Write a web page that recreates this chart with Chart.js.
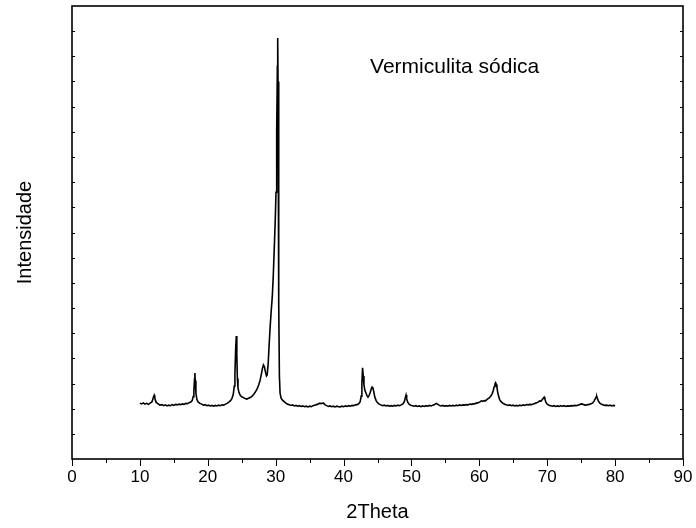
<!DOCTYPE html>
<html>
<head>
<meta charset="utf-8">
<script src="https://cdn.jsdelivr.net/npm/chart.js@4/dist/chart.umd.min.js"></script>
<style>
  html, body { margin: 0; padding: 0; background: #fff; }
</style>
</head>
<body>
<canvas id="xrdChart" width="696" height="528"></canvas>
<script>
// data
const twoTheta = [
  10.00, 10.25, 10.50, 10.75, 11.00, 11.25, 11.50, 11.75, 11.90, 12.00,
  12.10, 12.20, 12.30, 12.45, 12.70, 12.95, 13.25, 13.50, 13.75, 14.00,
  14.25, 14.50, 14.75, 15.00, 15.25, 15.50, 15.75, 16.00, 16.25, 16.50,
  16.75, 17.00, 17.25, 17.50, 17.70, 17.85, 17.95, 18.05, 18.10, 18.15,
  18.25, 18.40, 18.60, 18.85, 19.10, 19.35, 19.60, 19.85, 20.10, 20.35,
  20.60, 20.85, 21.10, 21.35, 21.60, 21.85, 22.10, 22.35, 22.60, 22.85,
  23.10, 23.35, 23.55, 23.75, 23.90, 24.00, 24.10, 24.20, 24.28, 24.36,
  24.45, 24.60, 24.80, 25.00, 25.25, 25.50, 25.75, 26.00, 26.25, 26.50,
  26.75, 27.00, 27.25, 27.50, 27.70, 27.90, 28.05, 28.20, 28.35, 28.50,
  28.65, 28.75, 28.90, 29.05, 29.20, 29.35, 29.50, 29.65, 29.80, 29.95,
  30.05, 30.15, 30.25, 30.30, 30.35, 30.42, 30.48, 30.55, 30.65, 30.80,
  31.00, 31.25, 31.50, 31.75, 32.00, 32.25, 32.50, 32.75, 33.00, 33.25,
  33.50, 33.75, 34.00, 34.25, 34.50, 34.75, 35.00, 35.25, 35.50, 35.75,
  36.00, 36.25, 36.50, 36.75, 37.00, 37.25, 37.50, 37.75, 38.00, 38.25,
  38.50, 38.75, 39.00, 39.25, 39.50, 39.75, 40.00, 40.25, 40.50, 40.75,
  41.00, 41.25, 41.50, 41.75, 42.00, 42.25, 42.45, 42.60, 42.70, 42.80,
  42.90, 43.00, 43.15, 43.30, 43.45, 43.60, 43.75, 43.90, 44.05, 44.20,
  44.30, 44.45, 44.60, 44.80, 45.00, 45.25, 45.50, 45.75, 46.00, 46.25,
  46.50, 46.75, 47.00, 47.25, 47.50, 47.75, 48.00, 48.25, 48.50, 48.75,
  48.95, 49.10, 49.20, 49.30, 49.45, 49.65, 49.90, 50.15, 50.40, 50.65,
  50.90, 51.15, 51.40, 51.65, 51.90, 52.15, 52.40, 52.65, 52.90, 53.15,
  53.40, 53.65, 53.85, 54.10, 54.35, 54.60, 54.85, 55.10, 55.35, 55.60,
  55.85, 56.10, 56.35, 56.60, 56.85, 57.10, 57.35, 57.60, 57.85, 58.10,
  58.35, 58.60, 58.85, 59.10, 59.35, 59.60, 59.85, 60.10, 60.30, 60.50,
  60.70, 60.90, 61.10, 61.30, 61.50, 61.70, 61.90, 62.05, 62.20, 62.30,
  62.40, 62.50, 62.60, 62.70, 62.85, 63.00, 63.20, 63.45, 63.70, 63.95,
  64.20, 64.45, 64.70, 64.95, 65.20, 65.45, 65.70, 65.95, 66.20, 66.45,
  66.70, 66.95, 67.20, 67.45, 67.70, 67.95, 68.20, 68.45, 68.70, 68.90,
  69.10, 69.25, 69.40, 69.55, 69.65, 69.80, 70.00, 70.25, 70.50, 70.75,
  71.00, 71.25, 71.50, 71.75, 72.00, 72.25, 72.50, 72.75, 73.00, 73.25,
  73.50, 73.75, 74.00, 74.25, 74.50, 74.75, 75.00, 75.20, 75.45, 75.70,
  75.95, 76.20, 76.45, 76.70, 76.90, 77.05, 77.20, 77.30, 77.40, 77.55,
  77.75, 78.00, 78.25, 78.50, 78.75, 79.00, 79.25, 79.50, 79.75, 80.00
];

const counts = [
  222, 219, 223, 218, 221, 217, 222, 226, 236, 246,
  253, 243, 232, 224, 219, 214, 216, 212, 215, 211,
  214, 212, 216, 213, 217, 215, 218, 216, 219, 217,
  221, 220, 224, 226, 232, 248, 270, 318, 342, 312,
  262, 236, 226, 221, 218, 214, 216, 212, 214, 211,
  213, 210, 213, 211, 214, 212, 215, 214, 218, 221,
  226, 232, 240, 256, 290, 340, 430, 489, 410, 320,
  282, 264, 252, 247, 244, 240, 238, 241, 244, 249,
  256, 266, 278, 294, 312, 338, 360, 374, 366, 345,
  330, 334, 380, 460, 530, 590, 644, 730, 840, 960,
  1060, 1300, 1560, 1673, 1500, 1100, 620, 330, 262, 242,
  234, 228, 222, 218, 216, 213, 215, 211, 213, 210,
  212, 209, 211, 208, 210, 207, 210, 208, 212, 214,
  216, 218, 222, 220, 223, 216, 212, 209, 211, 208,
  210, 207, 210, 208, 207, 210, 208, 211, 209, 212,
  210, 213, 212, 215, 216, 220, 228, 250, 300, 362,
  330, 294, 272, 262, 252, 246, 252, 262, 276, 286,
  284, 268, 246, 232, 224, 218, 215, 212, 214, 211,
  213, 210, 212, 210, 213, 211, 214, 212, 215, 219,
  228, 244, 254, 240, 226, 218, 214, 212, 210, 212,
  209, 211, 208, 211, 209, 212, 210, 213, 211, 214,
  216, 221, 218, 213, 211, 213, 210, 212, 210, 213,
  211, 213, 211, 214, 212, 215, 213, 215, 214, 216,
  215, 218, 217, 219, 220, 222, 224, 227, 231, 229,
  232, 231, 236, 240, 244, 250, 260, 272, 288, 298,
  303, 296, 284, 266, 248, 236, 228, 222, 218, 216,
  213, 215, 212, 214, 211, 213, 211, 214, 212, 215,
  213, 216, 215, 217, 216, 219, 221, 223, 227, 231,
  230, 235, 240, 246, 240, 226, 218, 214, 212, 210,
  212, 209, 211, 209, 212, 210, 212, 209, 211, 210,
  212, 211, 213, 212, 214, 216, 219, 218, 215, 214,
  216, 217, 219, 223, 230, 238, 246, 248, 240, 230,
  222, 217, 215, 213, 214, 212, 214, 211, 213, 212
];

const xTicks = [0, 10, 20, 30, 40, 50, 60, 70, 80, 90];
const sampleLabel = "Vermiculita sódica";

Chart.defaults.font.family = "'Liberation Sans', Arial, sans-serif";
Chart.defaults.color = "#000";

// frame + tick marks drawn like the Origin plot (x ticks outward, y ticks inward)
const framePlugin = {
    id: "frame",
    afterDraw(chart) {
        const { ctx, chartArea: a } = chart;
        const xs = chart.scales.x;
        const ys = chart.scales.y;
        ctx.save();
        ctx.strokeStyle = "#000";
        ctx.lineWidth = 1;
        for (let v = xs.min; v <= xs.max; v += 5) {
            const px = Math.round(xs.getPixelForValue(v)) + 0.5;
            const len = v % 10 === 0 ? 7 : 4;
            ctx.beginPath();
            ctx.moveTo(px, a.bottom);
            ctx.lineTo(px, a.bottom + len);
            ctx.stroke();
        }
        ys.ticks.forEach((t) => {
            if (t.value <= ys.min || t.value >= ys.max) return;
            const py = Math.round(ys.getPixelForValue(t.value)) + 0.5;
            ctx.beginPath();
            ctx.moveTo(a.left, py);
            ctx.lineTo(a.left + 3, py);
            ctx.moveTo(a.right, py);
            ctx.lineTo(a.right - 3, py);
            ctx.stroke();
        });
        ctx.lineWidth = 1.6;
        ctx.strokeRect(a.left, a.top, a.right - a.left, a.bottom - a.top);

        ctx.font = "21px 'Liberation Sans', Arial, sans-serif";
        ctx.fillStyle = "#000";
        ctx.textBaseline = "middle";
        ctx.textAlign = "left";
        ctx.fillText(sampleLabel, xs.getPixelForValue(43.9), ys.getPixelForValue(1555));
        ctx.restore();
    }
};

const ctx = document.getElementById("xrdChart").getContext("2d");

new Chart(ctx, {
    type: "line",
    data: {
        datasets: [
            {
                label: sampleLabel,
                data: twoTheta.map((x, i) => ({ x: x, y: counts[i] })),
                borderColor: "#000",
                borderWidth: 1.6,
                pointRadius: 0,
                tension: 0,
                fill: false
            }
        ]
    },
    options: {
        responsive: false,
        animation: false,
        layout: {
            padding: { top: 6, right: 13, left: 0, bottom: 0 }
        },
        plugins: {
            legend: { display: false },
            tooltip: { enabled: false }
        },
        scales: {
            x: {
                type: "linear",
                min: 0,
                max: 90,
                afterBuildTicks: (scale) => {
                    scale.ticks = xTicks.map((v) => ({ value: v }));
                },
                ticks: {
                    padding: 0,
                    maxRotation: 0,
                    font: { size: 17 }
                },
                grid: { display: false },
                border: { display: false },
                title: {
                    display: true,
                    text: "2Theta",
                    font: { size: 20 },
                    padding: { top: 4, bottom: 4 }
                },
                afterFit: (scale) => {
                    scale.height = 69;
                    scale.paddingLeft = 0;
                    scale.paddingRight = 0;
                }
            },
            y: {
                min: 0,
                max: 1800,
                ticks: { display: false, stepSize: 100 },
                grid: { display: false },
                border: { display: false },
                title: {
                    display: true,
                    text: "Intensidade",
                    font: { size: 20 },
                    padding: { top: 13, bottom: 0 }
                },
                afterFit: (scale) => {
                    scale.width = 72;
                }
            }
        }
    },
    plugins: [framePlugin]
});
</script>
</body>
</html>
